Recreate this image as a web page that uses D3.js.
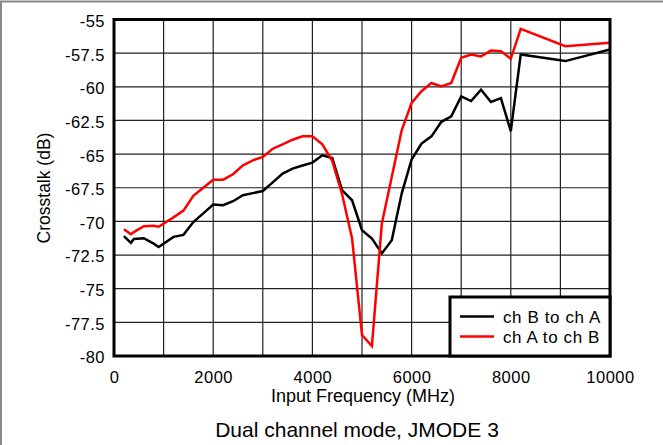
<!DOCTYPE html>
<html>
<head>
<meta charset="utf-8">
<script src="https://cdn.jsdelivr.net/npm/d3@7"></script>
<style>
  html, body { margin: 0; padding: 0; background: #fff; }
  svg { display: block; }
  text { font-family: "Liberation Sans", Arial, sans-serif; fill: #000; }
</style>
</head>
<body>
<svg id="chart" width="663" height="445"></svg>
<script>
const freqs = [200, 340, 400, 600, 800, 900, 1200, 1400, 1600, 1800, 2000, 2200, 2400, 2600, 2800, 3000, 3200, 3400, 3600, 3800, 4000, 4200, 4400, 4600, 4800, 5000, 5200, 5400, 5600, 5800, 6000, 6200, 6400, 6600, 6800, 7000, 7200, 7400, 7600, 7800, 8000, 8200, 9100, 10000];
const chBtoA = [-71.1, -71.6, -71.3, -71.25, -71.65, -71.9, -71.15, -71.0, -70.05, -69.4, -68.75, -68.8, -68.5, -68.06, -67.9, -67.74, -67.1, -66.45, -66.08, -65.85, -65.63, -65.09, -65.3, -67.7, -68.43, -70.65, -71.27, -72.38, -71.4, -67.93, -65.4, -64.22, -63.68, -62.6, -62.2, -60.71, -61.06, -60.22, -61.13, -60.84, -63.29, -57.6, -58.09, -57.23];
const chAtoB = [-70.58, -70.95, -70.8, -70.36, -70.33, -70.4, -69.7, -69.2, -68.1, -67.5, -66.9, -66.9, -66.5, -65.83, -65.46, -65.21, -64.6, -64.27, -63.93, -63.68, -63.68, -64.27, -65.5, -68.0, -71.27, -78.44, -79.26, -70.16, -66.7, -63.23, -61.2, -60.33, -59.72, -59.97, -59.72, -57.84, -57.6, -57.74, -57.3, -57.35, -57.92, -55.69, -56.98, -56.73];
const xTicks = [0, 2000, 4000, 6000, 8000, 10000];
const xGrid = [0, 1000, 2000, 3000, 4000, 5000, 6000, 7000, 8000, 9000, 10000];
const yTicks = [-55, -57.5, -60, -62.5, -65, -67.5, -70, -72.5, -75, -77.5, -80];
const seriesNames = ["ch B to ch A", "ch A to ch B"];
const seriesColors = ["#000000", "#ff0000"];
const xTitle = "Input Frequency (MHz)";
const yTitle = "Crosstalk (dB)";
const caption = "Dual channel mode, JMODE 3";

const svg = d3.select("#chart");
const L = 114, R = 610, T = 19.5, B = 356;
const x = d3.scaleLinear().domain([0, 10000]).range([L, R]);
const y = d3.scaleLinear().domain([-80, -55]).range([B, T]);

// outer frame (top/left visible)
svg.append("rect").attr("x", 1).attr("y", 1.5).attr("width", 720).attr("height", 500)
  .attr("fill", "none").attr("stroke", "#888").attr("stroke-width", 2);

// grid
const g = svg.append("g");
g.selectAll("line.vg").data(xGrid).join("line")
  .attr("x1", d => x(d)).attr("x2", d => x(d)).attr("y1", T).attr("y2", B)
  .attr("stroke", "#222").attr("stroke-width", 1.2);
g.selectAll("line.hg").data(yTicks).join("line")
  .attr("y1", d => y(d)).attr("y2", d => y(d)).attr("x1", L).attr("x2", R)
  .attr("stroke", "#222").attr("stroke-width", 1.2);

// axes labels via d3 axes
const xAxis = d3.axisBottom(x).tickValues(xTicks).tickSize(0).tickPadding(15.5).tickFormat(d3.format("d"));
const xa = svg.append("g").attr("transform", `translate(0,${B})`).call(xAxis);
xa.select(".domain").remove();
xa.selectAll("text").attr("font-size", 16.5).attr("letter-spacing", 0.5).attr("font-family", null).attr("fill", "#000");

const yAxis = d3.axisLeft(y).tickValues(yTicks).tickSize(0).tickPadding(9).tickFormat(d => String(d));
const ya = svg.append("g").attr("transform", `translate(${L},0)`).call(yAxis);
ya.select(".domain").remove();
ya.selectAll("text").attr("font-size", 16.5).attr("letter-spacing", 0.5).attr("dy", "0.42em")
  .attr("font-family", null).attr("fill", "#000");

// lines
const line = d3.line().x((d, i) => x(freqs[i])).y(d => y(d));
[chBtoA, chAtoB].forEach((s, k) => {
  svg.append("path").datum(s).attr("d", line).attr("fill", "none")
    .attr("stroke", seriesColors[k]).attr("stroke-width", 2.5).attr("stroke-linejoin", "miter");
});

// frame
svg.append("rect").attr("x", L).attr("y", T).attr("width", R - L).attr("height", B - T)
  .attr("fill", "none").attr("stroke", "#000").attr("stroke-width", 3);

// legend
const lg = svg.append("g");
lg.append("rect").attr("x", 450).attr("y", 297).attr("width", R - 450).attr("height", B - 297)
  .attr("fill", "#fff").attr("stroke", "#000").attr("stroke-width", 3);
seriesNames.forEach((n, k) => {
  const yy = 316.5 + k * 20;
  lg.append("line").attr("x1", 460).attr("x2", 494).attr("y1", yy).attr("y2", yy)
    .attr("stroke", seriesColors[k]).attr("stroke-width", 2.5);
  lg.append("text").attr("x", 503).attr("y", yy + 6).attr("font-size", 17).attr("letter-spacing", 0.6).text(n);
});

// titles
svg.append("text").attr("x", 363).attr("y", 402).attr("text-anchor", "middle").attr("font-size", 18).text(xTitle);
svg.append("text").attr("transform", "translate(50,188) rotate(-90)").attr("text-anchor", "middle").attr("font-size", 17.5).text(yTitle);
svg.append("text").attr("x", 357).attr("y", 436.5).attr("text-anchor", "middle").attr("font-size", 21).text(caption);
</script>
</body>
</html>
